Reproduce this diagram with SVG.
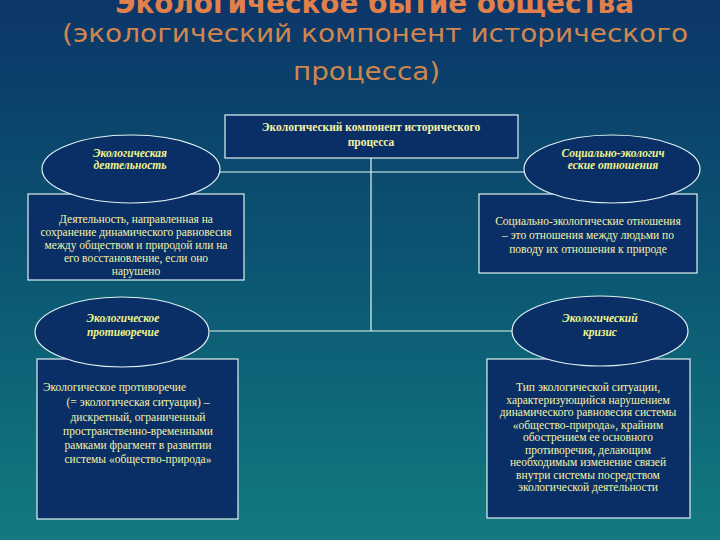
<svg xmlns="http://www.w3.org/2000/svg" width="720" height="540" viewBox="0 0 720 540">
<defs>
<linearGradient id="bg" x1="0" y1="0" x2="0" y2="1">
<stop offset="0" stop-color="#0c3668"/>
<stop offset="0.5" stop-color="#0b5672"/>
<stop offset="1" stop-color="#127a80"/>
</linearGradient>
<style>
.shape{fill:#0a2e66;stroke:#dff2f0;stroke-width:1.2}
.conn{stroke:#e6f4f2;stroke-width:1.2;fill:none}
.t{font-family:"Liberation Serif",serif;font-size:11.5px;fill:#f2f4a8;text-anchor:middle}
.s{text-anchor:start}
.b{font-weight:bold}
.e{font-family:"Liberation Serif",serif;font-size:11.5px;font-style:italic;font-weight:bold;fill:#eef48a;text-anchor:middle}
.title{font-family:"DejaVu Sans",sans-serif;fill:#e0804a}
.sub{font-family:"DejaVu Sans",sans-serif;fill:#d0864e}
</style>
</defs>
<rect x="0" y="0" width="720" height="540" fill="url(#bg)"/>
<g id="title">
<text class="title" x="115" y="13" font-size="28" font-weight="bold" textLength="519" lengthAdjust="spacingAndGlyphs">Экологическое бытие общества</text>
<text class="sub" x="62" y="42" font-size="25" textLength="626" lengthAdjust="spacingAndGlyphs">(экологический компонент исторического</text>
<text class="sub" x="293" y="80" font-size="25" textLength="147" lengthAdjust="spacingAndGlyphs">процесса)</text>
</g>
<g id="connectors">
<line class="conn" x1="371" y1="158" x2="371" y2="331"/>
<line class="conn" x1="218" y1="172" x2="525" y2="172"/>
<line class="conn" x1="210" y1="331" x2="513" y2="331"/>
</g>
<g id="top-box">
<rect class="shape" x="225" y="115" width="293" height="43"/>
<text class="t b" x="371" y="131">Экологический компонент исторического</text>
<text class="t b" x="371" y="146">процесса</text>
</g>
<g id="box-activity">
<rect class="shape" x="28" y="194" width="216" height="86"/>
<text class="t" x="136" y="223">Деятельность, направленная на</text>
<text class="t" x="136" y="236">сохранение динамического равновесия</text>
<text class="t" x="136" y="249">между обществом и природой или на</text>
<text class="t" x="136" y="262">его восстановление, если оно</text>
<text class="t" x="136" y="275">нарушено</text>
</g>
<g id="ellipse-activity">
<ellipse class="shape" cx="131" cy="169" rx="89" ry="34"/>
<text class="e" x="130" y="157">Экологическая</text>
<text class="e" x="130" y="169">деятельность</text>
</g>
<g id="box-relations">
<rect class="shape" x="479" y="194" width="218" height="79"/>
<text class="t" x="588" y="225">Социально-экологические отношения</text>
<text class="t" x="588" y="239">– это отношения между людьми по</text>
<text class="t" x="588" y="253">поводу их отношения к природе</text>
</g>
<g id="ellipse-relations">
<ellipse class="shape" cx="612" cy="169" rx="88" ry="34"/>
<text class="e" x="613" y="157">Социально-экологич</text>
<text class="e" x="613" y="169">еские отношения</text>
</g>
<g id="box-contradiction">
<rect class="shape" x="37" y="359" width="201" height="160"/>
<text class="t s" x="43" y="391">Экологическое противоречие</text>
<text class="t" x="138" y="406">(= экологическая ситуация) –</text>
<text class="t" x="138" y="421">дискретный, ограниченный</text>
<text class="t" x="138" y="435">пространственно-временными</text>
<text class="t" x="138" y="449">рамками фрагмент в развитии</text>
<text class="t" x="138" y="463">системы «общество-природа»</text>
</g>
<g id="ellipse-contradiction">
<ellipse class="shape" cx="122" cy="332" rx="87" ry="35"/>
<text class="e" x="123" y="322">Экологическое</text>
<text class="e" x="123" y="336">противоречие</text>
</g>
<g id="box-crisis">
<rect class="shape" x="487" y="359" width="203" height="159"/>
<text class="t" x="588" y="391">Тип экологической ситуации,</text>
<text class="t" x="588" y="403.5">характеризующийся нарушением</text>
<text class="t" x="588" y="416">динамического равновесия системы</text>
<text class="t" x="588" y="428.5">«общество-природа», крайним</text>
<text class="t" x="588" y="441">обострением ее основного</text>
<text class="t" x="588" y="453.5">противоречия, делающим</text>
<text class="t" x="588" y="466">необходимым изменение связей</text>
<text class="t" x="588" y="478.5">внутри системы посредством</text>
<text class="t" x="588" y="491">экологической деятельности</text>
</g>
<g id="ellipse-crisis">
<ellipse class="shape" cx="600" cy="331" rx="88" ry="35"/>
<text class="e" x="600" y="322">Экологический</text>
<text class="e" x="600" y="336">кризис</text>
</g>
</svg>
